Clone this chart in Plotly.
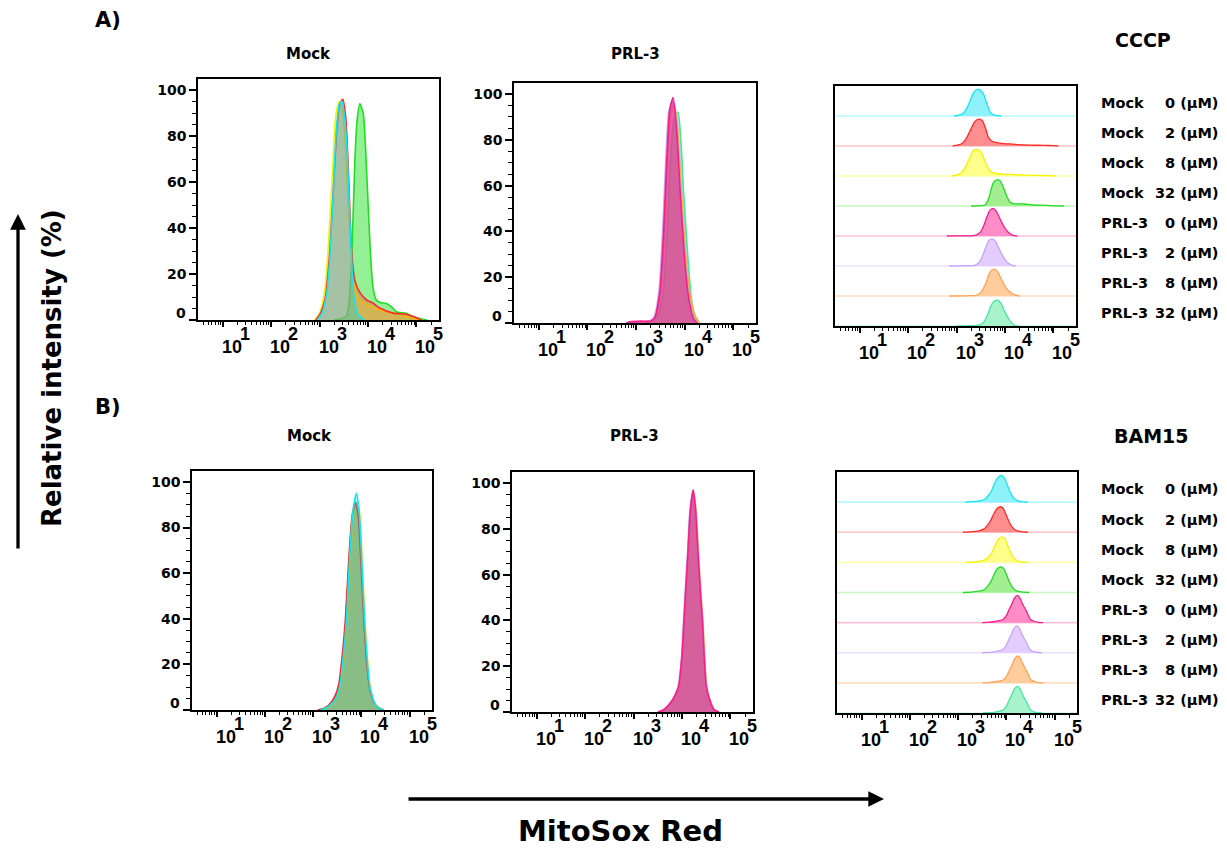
import math
import plotly.graph_objects as go

W, H = 1227, 852

# ---------------------------------------------------------------------------
# MitoSox Red histograms: log10 fluorescence intensity and % of maximum
# ---------------------------------------------------------------------------
LABEL_GROUP = ["Mock", "Mock", "Mock", "Mock", "PRL-3", "PRL-3", "PRL-3", "PRL-3"]
LABEL_DOSE = ["0 (µM)", "2 (µM)", "8 (µM)", "32 (µM)", "0 (µM)", "2 (µM)", "8 (µM)", "32 (µM)"]

# CCCP treatment
cccp_mock0_log = [2.95, 3.05, 3.15, 3.22, 3.28, 3.35, 3.41, 3.46, 3.51, 3.56, 3.63, 3.70, 3.78, 3.85, 3.92]
cccp_mock0_pct = [0, 3, 12, 30, 55, 84, 94, 95, 89, 77, 41, 12, 3, 1, 0]
cccp_mock2_log = [2.92, 3.02, 3.12, 3.20, 3.28, 3.36, 3.42, 3.48, 3.54, 3.60, 3.66, 3.73, 3.83, 3.97, 4.10, 4.24, 4.52, 4.79, 5.00, 5.10]
cccp_mock2_pct = [0, 3, 10, 27, 55, 84, 94, 96, 88, 62, 30, 17, 12, 8.7, 7.4, 5.2, 3, 2.5, 1, 0]
cccp_mock8_log = [2.90, 3.00, 3.10, 3.18, 3.26, 3.33, 3.40, 3.46, 3.52, 3.58, 3.65, 3.72, 3.82, 3.95, 4.10, 4.30, 4.60, 4.90, 5.05]
cccp_mock8_pct = [0, 3, 12, 32, 62, 88, 95, 92, 80, 55, 28, 14, 9, 7, 5.5, 4, 2.5, 1, 0]
cccp_mock32_log = [3.30, 3.45, 3.56, 3.60, 3.66, 3.73, 3.77, 3.83, 3.90, 3.97, 4.04, 4.10, 4.17, 4.27, 4.38, 4.48, 4.58, 4.79, 4.93, 5.13, 5.22]
cccp_mock32_pct = [0, 0.5, 2, 6, 26, 70, 86, 94, 90, 65, 33, 14.5, 8.7, 7.5, 7.2, 5.8, 3.6, 2.9, 1.4, 0.3, 0]
cccp_prl0_log = [2.80, 2.87, 3.10, 3.30, 3.38, 3.49, 3.57, 3.63, 3.69, 3.76, 3.83, 3.91, 4.00, 4.07, 4.17, 4.25]
cccp_prl0_pct = [0, 0.5, 0.8, 0.8, 2.2, 13.9, 41.6, 70.8, 92.7, 98.5, 85.4, 56, 27, 12.6, 2.2, 0]
cccp_prl2_log = [2.85, 3.10, 3.28, 3.37, 3.47, 3.55, 3.61, 3.67, 3.74, 3.81, 3.89, 3.98, 4.05, 4.15, 4.22]
cccp_prl2_pct = [0, 0.5, 1, 2.5, 14, 42, 71, 92, 97, 86, 57, 28, 13, 2, 0]
cccp_prl8_log = [2.85, 3.10, 3.30, 3.40, 3.50, 3.59, 3.65, 3.71, 3.78, 3.85, 3.93, 4.02, 4.10, 4.20, 4.30]
cccp_prl8_pct = [0, 0.5, 1, 2.5, 13, 40, 70, 91, 96, 86, 58, 30, 14, 4, 0]
cccp_prl32_log = [3.00, 3.30, 3.45, 3.56, 3.64, 3.70, 3.76, 3.80, 3.86, 3.92, 3.98, 4.07, 4.13, 4.20, 4.28]
cccp_prl32_pct = [0, 1, 3, 14, 40, 68, 86, 91, 92, 80, 56, 27, 12, 2.5, 0]

# BAM15 treatment
bam_mock0_log = [3.15, 3.28, 3.38, 3.47, 3.55, 3.62, 3.69, 3.76, 3.83, 3.90, 3.96, 4.01, 4.07, 4.13, 4.18, 4.28, 4.35, 4.45]
bam_mock0_pct = [0, 1, 2.7, 5, 10, 22, 39, 68, 88, 95, 86, 66, 39, 20, 10, 2.7, 1, 0]
bam_mock2_log = [3.10, 3.25, 3.36, 3.45, 3.53, 3.60, 3.67, 3.74, 3.81, 3.88, 3.94, 3.99, 4.05, 4.11, 4.17, 4.27, 4.35, 4.45]
bam_mock2_pct = [0, 1, 3, 6, 11, 23, 40, 66, 85, 91, 84, 65, 40, 21, 10, 3, 1, 0]
bam_mock8_log = [3.15, 3.30, 3.40, 3.49, 3.57, 3.64, 3.71, 3.78, 3.85, 3.91, 3.97, 4.02, 4.08, 4.14, 4.19, 4.28, 4.36, 4.45]
bam_mock8_pct = [0, 1, 2.5, 5, 10, 21, 38, 65, 85, 91, 85, 64, 38, 19, 9, 2.5, 1, 0]
bam_mock32_log = [3.10, 3.27, 3.37, 3.46, 3.54, 3.61, 3.68, 3.75, 3.82, 3.89, 3.95, 4.00, 4.06, 4.12, 4.17, 4.27, 4.36, 4.47]
bam_mock32_pct = [0, 1, 3, 5.5, 10, 22, 39, 66, 86, 91, 84, 65, 39, 20, 10, 3, 1, 0]
bam_prl0_log = [3.50, 3.62, 3.76, 3.85, 3.93, 4.00, 4.04, 4.08, 4.12, 4.17, 4.23, 4.28, 4.33, 4.38, 4.42, 4.50, 4.59, 4.66, 4.76]
bam_prl0_pct = [0, 1, 4, 7, 11.3, 25, 40, 55, 69, 88, 97, 88, 69, 52, 40, 11.3, 4, 1, 0]
bam_prl2_log = [3.50, 3.62, 3.75, 3.84, 3.92, 3.99, 4.03, 4.07, 4.11, 4.16, 4.22, 4.27, 4.32, 4.37, 4.41, 4.49, 4.58, 4.65, 4.74]
bam_prl2_pct = [0, 1, 3.5, 6.5, 11, 24, 39, 54, 68, 87, 96, 87, 68, 51, 39, 11, 3.5, 1, 0]
bam_prl8_log = [3.51, 3.63, 3.77, 3.86, 3.94, 4.01, 4.05, 4.09, 4.13, 4.18, 4.24, 4.29, 4.34, 4.39, 4.43, 4.51, 4.60, 4.67, 4.77]
bam_prl8_pct = [0, 1, 4, 7, 11, 25, 40, 55, 69, 88, 96, 88, 69, 52, 40, 11, 4, 1, 0]
bam_prl32_log = [3.52, 3.64, 3.77, 3.86, 3.93, 4.00, 4.04, 4.08, 4.12, 4.17, 4.23, 4.28, 4.33, 4.38, 4.42, 4.50, 4.58, 4.65, 4.74]
bam_prl32_pct = [0, 1, 3.5, 6.5, 11, 24, 39, 54, 68, 87, 95, 87, 68, 51, 39, 11, 3.5, 1, 0]

cccp_logs = [cccp_mock0_log, cccp_mock2_log, cccp_mock8_log, cccp_mock32_log,
             cccp_prl0_log, cccp_prl2_log, cccp_prl8_log, cccp_prl32_log]
cccp_pcts = [cccp_mock0_pct, cccp_mock2_pct, cccp_mock8_pct, cccp_mock32_pct,
             cccp_prl0_pct, cccp_prl2_pct, cccp_prl8_pct, cccp_prl32_pct]
bam_logs = [bam_mock0_log, bam_mock2_log, bam_mock8_log, bam_mock32_log,
            bam_prl0_log, bam_prl2_log, bam_prl8_log, bam_prl32_log]
bam_pcts = [bam_mock0_pct, bam_mock2_pct, bam_mock8_pct, bam_mock32_pct,
            bam_prl0_pct, bam_prl2_pct, bam_prl8_pct, bam_prl32_pct]

# ---------------------------------------------------------------------------
# styling
# ---------------------------------------------------------------------------
LINE_COL = ["#14e4f4", "#ff2a2a", "#f4f400", "#22dd22", "#f5208a", "#c4a4ff", "#ffa458", "#44e6a4"]
LANE_FILL = ["#8ff2fb", "#ff8e8e", "#ffff8c", "#a2ef92", "#ff8cc6", "#e3cdff", "#ffcc9c", "#a8f3cc"]
LANE_BASE = ["#b8f8ff", "#ffc4c4", "#ffffb0", "#c8f8c0", "#ffc0dc", "#eee0ff", "#ffe0c4", "#cff8e2"]
OVER_FILL = ["rgba(0,210,230,0.35)", "rgba(255,60,60,0.35)", "rgba(255,255,0,0.35)", "rgba(0,220,0,0.42)",
             "rgba(238,30,140,0.55)", "rgba(170,120,255,0.35)", "rgba(255,140,0,0.35)", "rgba(0,230,120,0.4)"]

BOLD = "DejaVu Sans"
NARROW = "Liberation Sans Narrow, Liberation Sans, Arial"
XR = [0.49, 5.465]
LANE_SCALE = 0.93

# panel boxes in pixels: (left, top, right, bottom)
BOXES = {
    1: (198, 79, 439, 320),    # A  Mock overlay
    2: (514, 83, 756, 323),    # A  PRL-3 overlay
    3: (835, 86, 1076, 326),   # A  CCCP offset
    4: (192, 471, 432, 710),   # B  Mock overlay
    5: (512, 472, 753, 712),   # B  PRL-3 overlay
    6: (837, 472, 1077, 713),  # B  BAM15 offset
}


def dom_x(b):
    return [b[0] / W, b[2] / W]


def dom_y(b):
    return [1 - b[3] / H, 1 - b[1] / H]


def ax_name(i, kind):
    return kind if i == 1 else f"{kind}{i}"


fig = go.Figure()

# overlay panels
overlays = [(1, cccp_logs, cccp_pcts, [3, 2, 1, 0]),
            (2, cccp_logs, cccp_pcts, [7, 6, 5, 4]),
            (4, bam_logs, bam_pcts, [3, 2, 1, 0]),
            (5, bam_logs, bam_pcts, [7, 6, 5, 4])]
for ax, logs, pcts, order in overlays:
    for k in order:
        fig.add_trace(go.Scatter(
            x=[10 ** v for v in logs[k]], y=pcts[k],
            mode="lines", line=dict(color=LINE_COL[k], width=1.6, shape="spline", smoothing=0.6),
            fill="tozeroy", fillcolor=OVER_FILL[k],
            xaxis=ax_name(ax, "x"), yaxis=ax_name(ax, "y"),
            name=f"{LABEL_GROUP[k]} {LABEL_DOSE[k]}", hoverinfo="skip"))

# offset (stacked) panels
shapes = []
for ax, logs, pcts in [(3, cccp_logs, cccp_pcts), (6, bam_logs, bam_pcts)]:
    for k in range(8):
        base = 7 - k
        shapes.append(dict(type="line", xref=f"x{ax} domain", yref=f"y{ax}",
                           x0=0, x1=1, y0=base, y1=base, layer="below",
                           line=dict(color=LANE_BASE[k], width=1.6)))
        fig.add_trace(go.Scatter(
            x=[10 ** v for v in logs[k]],
            y=[base + p / 100 * LANE_SCALE for p in pcts[k]],
            mode="lines", line=dict(color=LINE_COL[k], width=1.3, shape="spline", smoothing=0.6),
            fill="toself", fillcolor=LANE_FILL[k],
            xaxis=f"x{ax}", yaxis=f"y{ax}",
            name=f"{LABEL_GROUP[k]} {LABEL_DOSE[k]}", hoverinfo="skip"))

# ---------------------------------------------------------------------------
# axes
# ---------------------------------------------------------------------------
major_x = [10 ** d for d in range(1, 6)]
minor_x = [m * 10 ** d for d in range(0, 6) for m in range(2, 10)
           if XR[0] <= math.log10(m * 10 ** d) <= XR[1]]

layout_axes = {}
for i, b in BOXES.items():
    xa = dict(domain=dom_x(b), anchor=ax_name(i, "y"), type="log", range=XR,
              showline=True, mirror=True, linecolor="black", linewidth=1.5,
              ticks="outside", ticklen=5, tickwidth=1.5, tickcolor="black",
              tickmode="array", tickvals=major_x, showticklabels=False,
              minor=dict(tickmode="array", tickvals=minor_x, ticks="outside",
                         ticklen=3, tickwidth=1, tickcolor="black"),
              showgrid=False, zeroline=False, fixedrange=True)
    if i in (3, 6):
        ya = dict(domain=dom_y(b), anchor=ax_name(i, "x"), range=[0, 8],
                  showline=True, mirror=True, linecolor="black", linewidth=1.5,
                  ticks="", showticklabels=False, showgrid=False, zeroline=False)
    else:
        ya = dict(domain=dom_y(b), anchor=ax_name(i, "x"), range=[0, 104.8],
                  showline=True, mirror=True, linecolor="black", linewidth=1.5,
                  ticks="outside", ticklen=7, tickwidth=1.5, tickcolor="black",
                  tickmode="array", tickvals=[0, 20, 40, 60, 80, 100],
                  ticktext=["", "20", "40", "60", "80", "100"],
                  tickfont=dict(family=BOLD, size=14, color="black", weight="bold"),
                  minor=dict(tickmode="array", tickvals=list(range(5, 100, 5)),
                             ticks="outside", ticklen=4, tickwidth=1, tickcolor="black"),
                  showgrid=False, zeroline=False)
    layout_axes["xaxis" if i == 1 else f"xaxis{i}"] = xa
    layout_axes["yaxis" if i == 1 else f"yaxis{i}"] = ya

# ---------------------------------------------------------------------------
# text
# ---------------------------------------------------------------------------
ann = []


def text(x, y, s, size, family=BOLD, **kw):
    ann.append(dict(x=x / W, y=1 - y / H, xref="paper", yref="paper", text=f"<b>{s}</b>",
                    xanchor="center", yanchor="middle",
                    showarrow=False, font=dict(family=family, size=size, color="black"), **kw))


# x tick labels  10^n
for i in BOXES:
    for n in range(1, 6):
        common = dict(x=n, xref=ax_name(i, "x"), y=0, yref=f"{ax_name(i, 'y')} domain",
                      showarrow=False, xanchor="left", yanchor="middle")
        ann.append(dict(text="<b>10</b>", xshift=-3, yshift=-27,
                        font=dict(family=NARROW, size=18, color="black"), **common))
        ann.append(dict(text=f"<b>{n}</b>", xshift=15, yshift=-14,
                        font=dict(family=NARROW, size=18, color="black"), **common))
    if i not in (3, 6):
        # "0" label sits just above the x axis line
        ann.append(dict(x=0, xref=f"{ax_name(i, 'x')} domain", y=0, yref=ax_name(i, "y"),
                        text="<b>0</b>", showarrow=False, xanchor="right", yanchor="middle",
                        xshift=-10, yshift=7, font=dict(family=BOLD, size=14, color="black")))

# sample labels beside offset panels
for ax in (3, 6):
    for k in range(8):
        yv = 7 - k + 0.42
        ann.append(dict(x=1099 / W, xref="paper", y=yv, yref=f"y{ax}", text=f"<b>{LABEL_GROUP[k]}</b>",
                        showarrow=False, xanchor="left", yanchor="middle",
                        font=dict(family=BOLD, size=14.5, color="black")))
        ann.append(dict(x=1221 / W, xref="paper", y=yv, yref=f"y{ax}", text=f"<b>{LABEL_DOSE[k]}</b>",
                        showarrow=False, xanchor="right", yanchor="middle",
                        font=dict(family=BOLD, size=14.5, color="black")))

text(108, 20, "A)", 21)
text(108, 407, "B)", 21)
text(308, 54, "Mock", 15)
text(636, 54, "PRL-3", 15)
text(1143, 40, "CCCP", 19)
text(309, 436, "Mock", 15)
text(634, 436, "PRL-3", 15)
text(1151, 436, "BAM15", 19)
text(621, 831, "MitoSox Red", 29)
text(52, 368, "Relative intensity (%)", 26, textangle=-90)

# axis arrows
ann.append(dict(x=18 / W, y=1 - 214 / H, xref="paper", yref="paper", text="", showarrow=True,
                ax=0, ay=336, axref="pixel", ayref="pixel", arrowhead=2, arrowsize=0.95,
                arrowwidth=3.3, arrowcolor="black", standoff=0))
ann.append(dict(x=884 / W, y=1 - 799 / H, xref="paper", yref="paper", text="", showarrow=True,
                ax=-477, ay=0, axref="pixel", ayref="pixel", arrowhead=2, arrowsize=0.95,
                arrowwidth=3.3, arrowcolor="black", standoff=0))

fig.update_layout(
    width=W, height=H, margin=dict(l=0, r=0, t=0, b=0),
    paper_bgcolor="white", plot_bgcolor="white", showlegend=False,
    annotations=ann, shapes=shapes, **layout_axes)

fig.write_html("out.html")
